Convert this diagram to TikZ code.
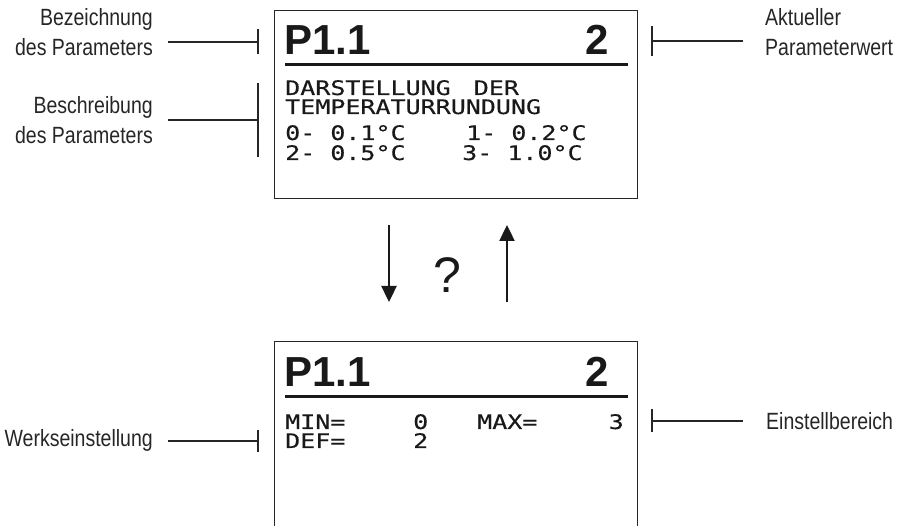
\documentclass[tikz,border=0pt]{standalone}
\usepackage{fontspec}
\usepackage{tikz}
\usetikzlibrary{arrows.meta,positioning,calc}

\newfontfamily\annofont[FakeStretch=0.83]{Liberation Sans}
\newfontfamily\qfont{Liberation Sans}
\newfontfamily\headfont{Liberation Sans}
\newfontfamily\lcdfont[FakeStretch=1.25,FakeBold=0.4]{DejaVu Sans Mono}

\begin{document}
\begin{tikzpicture}[
    x=1pt, y=-1pt,
    screen/.style={draw=black!85, line width=1pt, minimum width=363pt, inner sep=0, anchor=north west},
    hdr/.style={font=\headfont\bfseries\fontsize{42}{42}\selectfont, inner sep=0, text=black!90},
    lcd/.style={font=\lcdfont\fontsize{20}{20}\selectfont, inner sep=0, text height=15pt, text depth=0pt, anchor=base west, text=black!90},
    anno/.style={font=\annofont\fontsize{23.5}{30}\selectfont, inner sep=0, text=black!85},
    lead/.style={line width=1.6pt, draw=black!85},
    bar/.style={line width=2.6pt, draw=black!85},
    rule/.style={line width=3pt, draw=black!90},
    flow/.style={-{Triangle[width=15pt,length=16pt]}, line width=2.4pt, draw=black!90}
]
    \useasboundingbox (0,0) rectangle (900,526);

    % screens
    \node [screen, minimum height=188pt] (scr1) at (274,10) {};
    \node [screen, minimum height=200pt] (scr2) at (274,341) {};

    % upper screen
    \node [hdr, anchor=base west] (p1) at (284,55) {P1.1};
    \node [hdr, anchor=base east] (v1) at (609,55) {2};
    \draw [rule] ($(scr1.north west)+(11,55)$) -- ($(scr1.north east)+(-10,55)$);
    \node [lcd] (d1) at (285,95) {DARSTELLUNG\hspace{8pt} DER};
    \node [lcd] (d2) at (285,114) {TEMPERATURRUNDUNG};
    \node [lcd] (d3) at (285,140) {0- 0.1°C};
    \node [lcd] (d4) at (466,140) {1- 0.2°C};
    \node [lcd] (d5) at (285,160) {2- 0.5°C};
    \node [lcd] (d6) at (462,160) {3- 1.0°C};

    % lower screen
    \node [hdr, anchor=base west] (p2) at (284,387) {P1.1};
    \node [hdr, anchor=base east] (v2) at (609,387) {2};
    \draw [rule] ($(scr2.north west)+(11,56)$) -- ($(scr2.north east)+(-10,56)$);
    \node [lcd] (mn) at (285,429) {MIN=};
    \node [lcd] (mnv) at (413,429) {0};
    \node [lcd] (mx) at (477,429) {MAX=};
    \node [lcd, anchor=base east] (mxv) at (624,429) {3};
    \node [lcd] (df) at (285,448) {DEF=};
    \node [lcd] (dfv) at (413,448) {2};

    % navigation
    \coordinate (dnA) at (389,225);
    \coordinate (dnB) at (389,302);
    \coordinate (upA) at (507,302);
    \coordinate (upB) at (507,225);
    \draw [flow] (dnA) -- (dnB);
    \draw [flow] (upA) -- (upB);
    \node [font=\qfont\fontsize{50}{50}\selectfont, inner sep=0, text=black!90] (ask) at (447,275) {?};

    % annotations left
    \node [anno, anchor=north east, align=right] (bez) at (153,8) {Bezeichnung\\des Parameters};
    \node [anno, anchor=north east, align=right] (bes) at (153,96) {Beschreibung\\des Parameters};
    \node [anno, anchor=base east] (werk) at (153,447) {Werkseinstellung};
    \coordinate (bezT) at (258,42);
    \coordinate (besT) at (258,120);
    \coordinate (werkT) at (258,441);
    \draw [lead] ([xshift=15pt]bez.east |- bezT) -- (bezT);
    \draw [lead] ([xshift=15pt]bes.east |- besT) -- (besT);
    \draw [lead] ([xshift=15pt]werk.east |- werkT) -- (werkT);
    \draw [bar] ([yshift=12.5pt]bezT) -- ([yshift=-12.5pt]bezT);
    \draw [bar] ([yshift=37pt]besT) -- ([yshift=-37pt]besT);
    \draw [bar] ([yshift=11pt]werkT) -- ([yshift=-11pt]werkT);

    % annotations right
    \node [anno, anchor=north west, align=left] (akt) at (765,8) {Aktueller\\Parameterwert};
    \node [anno, anchor=base west] (ein) at (766,430) {Einstellbereich};
    \coordinate (aktT) at (652,41);
    \coordinate (einT) at (652,421);
    \draw [lead] ([xshift=-22pt]akt.west |- aktT) -- (aktT);
    \draw [lead] ([xshift=-23pt]ein.west |- einT) -- (einT);
    \draw [bar] ([yshift=15pt]aktT) -- ([yshift=-15pt]aktT);
    \draw [bar] ([yshift=11.5pt]einT) -- ([yshift=-11.5pt]einT);
\end{tikzpicture}
\end{document}
